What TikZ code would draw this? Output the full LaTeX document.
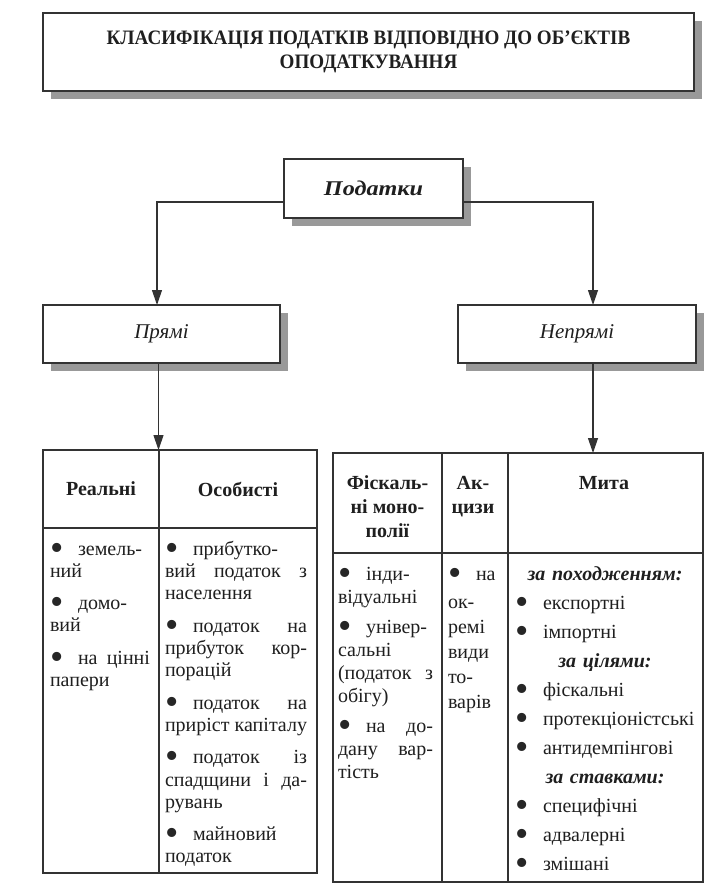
\documentclass[tikz,border=0pt]{standalone}
\usepackage{fontspec}
\usepackage{graphicx}
\setmainfont{Liberation Serif}
\newfontfamily\titlefont[FakeStretch=0.93]{Liberation Serif}
\newfontfamily\podfont[FakeStretch=1.15]{Liberation Serif}
\usetikzlibrary{arrows.meta,shadows}
\newcommand\Bul{\makebox[28pt][l]{\smash{\raisebox{-5pt}{\textcolor{black!85}{\scalebox{1.9}{\textbullet}}}}}}
\newcommand\Sp{\nobreak\hfill\nobreak}
\newcommand\Fs{\rule{0pt}{14pt}}
\newcommand\Hd[1]{\mbox{}\hfill\textbf{\textit{#1}}\hfill\mbox{}}
\tikzset{
  ln/.style={draw=black!80, line width=1.2pt},
  box/.style={ln, fill=white, outer sep=0pt, inner sep=0pt, text=black!88,
    drop shadow={shadow xshift=8pt, shadow yshift=-8pt, fill=black!40, opacity=1}},
  cell/.style={ln, outer sep=0pt, inner sep=0pt, text=black!88},
  txt/.style={inner sep=0pt, outer sep=0pt, anchor=north west, align=left, text=black!88},
  arr/.style={ln, -{Triangle[length=15pt,width=10pt]}},
}
\begin{document}
\begin{tikzpicture}[x=1pt, y=-1pt]
\path[fill=white, use as bounding box] (0,0) rectangle (715,891);

% top boxes
\node[box, minimum width=651pt, minimum height=78pt, align=center,
  font=\titlefont\bfseries\fontsize{20.5}{24}\selectfont] (title) at (368.5,52)
  {КЛАСИФІКАЦІЯ ПОДАТКІВ ВІДПОВІДНО ДО ОБ’ЄКТІВ\\ОПОДАТКУВАННЯ};
\node[box, minimum width=179pt, minimum height=59pt,
  font=\podfont\bfseries\itshape\fontsize{21}{23}\selectfont] (pod) at (373.5,188.5) {Податки};
\node[box, minimum width=237pt, minimum height=58pt,
  font=\itshape\fontsize{21}{23}\selectfont] (pry) at (161.5,334) {Прямі};
\node[box, minimum width=238pt, minimum height=58pt,
  font=\itshape\fontsize{21}{23}\selectfont] (nep) at (577,334) {Непрямі};

% left table
\node[cell, minimum width=116pt, minimum height=78pt,
  font=\bfseries\fontsize{20}{23}\selectfont] (lh1) at (101,489) {Реальні};
\node[cell, minimum width=158pt, minimum height=78pt,
  font=\bfseries\fontsize{20}{23}\selectfont] (lh2) at (238,489) {Особисті};
\node[cell, minimum width=116pt, minimum height=345pt] (lb1) at (101,700.5) {};
\node[cell, minimum width=158pt, minimum height=345pt] (lb2) at (238,700.5) {};

% right table
\node[cell, minimum width=109pt, minimum height=100pt] (rh1) at (387.5,503) {};
\node[cell, minimum width=66pt, minimum height=100pt] (rh2) at (475,503) {};
\node[cell, minimum width=195pt, minimum height=100pt] (rh3) at (605.5,503) {};
\node[cell, minimum width=109pt, minimum height=329pt] (rb1) at (387.5,717.5) {};
\node[cell, minimum width=66pt, minimum height=329pt] (rb2) at (475,717.5) {};
\node[cell, minimum width=195pt, minimum height=329pt] (rb3) at (605.5,717.5) {};

% arrows
\draw[arr] ([yshift=-13.5pt]pod.west) -| ([xshift=-4.5pt]pry.north);
\draw[arr] ([yshift=-13.5pt]pod.east) -| ([xshift=16pt]nep.north);
\draw[arr] ([xshift=-3pt]pry.south) -- ([xshift=-3pt]pry.south |- lh1.north);
\draw[arr] ([xshift=16pt]nep.south) -- ([xshift=16pt]nep.south |- rh3.north);

% left table texts
\node[txt, text width=100pt, font=\fontsize{20}{22.3}\selectfont] (t1) at (50,541)
 {\Fs\Bul земель-\\ний\\[10pt]\Bul домо-\\вий\\[10pt]\Bul на\Sp цінні\\папери};
\node[txt, text width=142pt, font=\fontsize{20}{22.3}\selectfont] (t2) at (165,541)
 {\Fs\Bul прибутко-\\вий\Sp податок\Sp з\\населення\\[10pt]\Bul податок\Sp на\\прибуток\Sp кор-\\порацій\\[10pt]\Bul податок\Sp на\\приріст\Sp капіталу\\[10pt]\Bul податок\Sp із\\спадщини\Sp і\Sp да-\\рувань\\[10pt]\Bul майновий\\податок};

% right table headers
\node[inner sep=0pt, anchor=north, align=center, text=black!88,
  font=\bfseries\fontsize{20}{24}\selectfont] (h3) at (387.5,475) {\Fs Фіскаль-\\ні моно-\\полії};
\node[inner sep=0pt, anchor=north, align=center, text=black!88,
  font=\bfseries\fontsize{20}{24}\selectfont] (h4) at (473,475) {\Fs Ак-\\цизи};
\node[inner sep=0pt, anchor=north, align=center, text=black!88,
  font=\bfseries\fontsize{20}{24}\selectfont] (h5) at (604,475) {\Fs Мита};

% right table texts
\node[txt, text width=95pt, font=\fontsize{20}{23}\selectfont] (t3) at (338,566)
 {\Fs\Bul інди-\\відуальні\\[7pt]\Bul універ-\\сальні\\(податок\Sp з\\обігу)\\[7pt]\Bul на\Sp до-\\дану\Sp вар-\\тість};
\node[txt, text width=49pt, font=\fontsize{20}{25}\selectfont] (t4) at (448,566)
 {\Fs\Bul на\\[3pt]ок-\\ремі\\види\\то-\\варів};
\node[txt, text width=180pt, font=\fontsize{20}{29}\selectfont] (t5) at (515,566)
 {\Fs\Hd{за~походженням:}\\\Bul експортні\\\Bul імпортні\\\Hd{за~цілями:}\\\Bul фіскальні\\\Bul протекціоністські\\\Bul антидемпінгові\\\Hd{за~ставками:}\\\Bul специфічні\\\Bul адвалерні\\\Bul змішані};
\end{tikzpicture}
\end{document}
